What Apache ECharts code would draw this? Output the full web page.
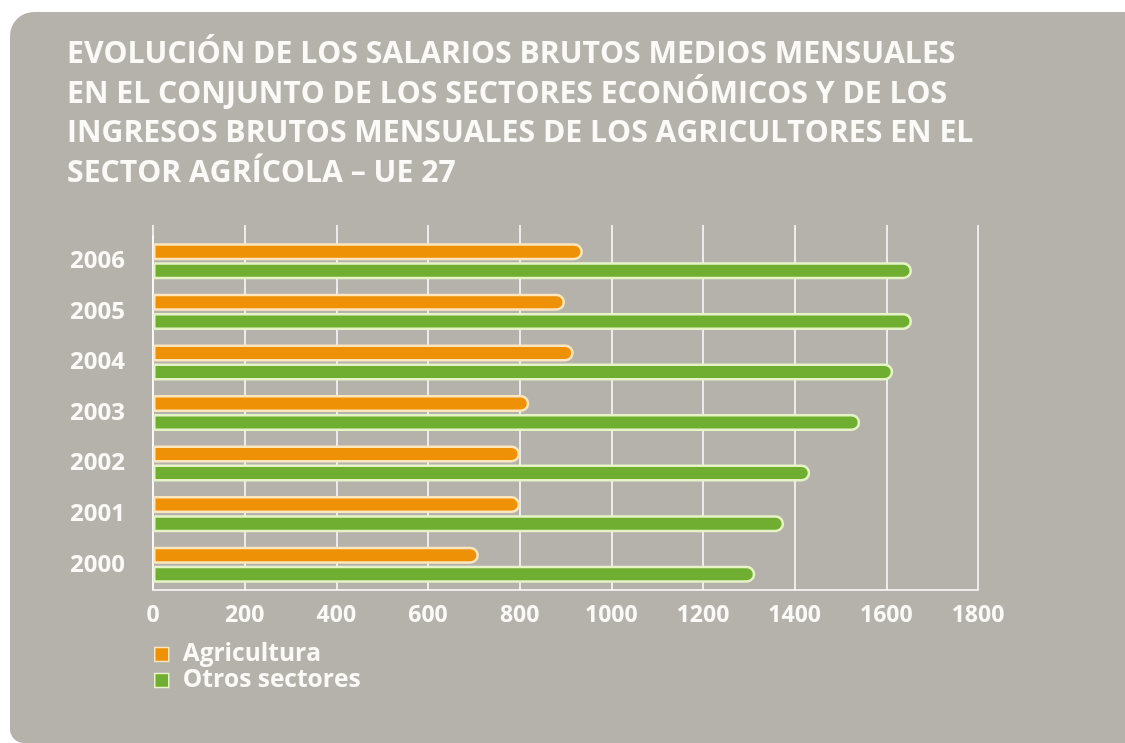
<!DOCTYPE html>
<html>
<head>
<meta charset="utf-8">
<script src="https://cdn.jsdelivr.net/npm/echarts@6/dist/echarts.min.js"></script>
<style>
  html, body { margin: 0; padding: 0; background: #ffffff; }
  #panel {
    position: absolute; left: 10px; top: 12px; width: 1115px; height: 731px;
    background: #b5b2ac; border-top-left-radius: 24px; border-bottom-left-radius: 14px;
  }
  #chart { position: absolute; left: 0; top: 0; width: 1125px; height: 743px; }
</style>
</head>
<body>
<div id="panel"></div>
<div id="chart"></div>
<script>
// data (euros per month)
var years = ['2000', '2001', '2002', '2003', '2004', '2005', '2006']
var agricultura = [711, 801, 801, 821, 918, 899, 938]
var otrosSectores = [1314, 1377, 1434, 1543, 1615, 1656, 1656]
var seriesNames = ['Agricultura', 'Otros sectores']
var titleLines = [
  'EVOLUCIÓN DE LOS SALARIOS BRUTOS MEDIOS MENSUALES',
  'EN EL CONJUNTO DE LOS SECTORES ECONÓMICOS Y DE LOS',
  'INGRESOS BRUTOS MENSUALES DE LOS AGRICULTORES EN EL',
  'SECTOR AGRÍCOLA – UE 27'
]

var orange = '#ee9106'
var orangeEdge = '#fbe6bd'
var green = '#6fae31'
var greenEdge = '#e6f3c6'
var textColor = '#fbfaf6'
var fontFamily = '"Open Sans", "Noto Sans", sans-serif'

var chart = echarts.init(document.getElementById('chart'))

var option = {
  backgroundColor: 'transparent',
  animation: false,
  title: {
    text: titleLines.join('\n'),
    left: 62,
    top: 30,
    textStyle: {
      color: textColor,
      fontFamily: fontFamily,
      fontWeight: 'bold',
      fontSize: 30.2,
      lineHeight: 39.5
    }
  },
  legend: {
    orient: 'vertical',
    left: 149,
    top: 637,
    itemGap: 1,
    itemWidth: 14,
    itemHeight: 14,
    icon: 'rect',
    data: [
      { name: seriesNames[0], itemStyle: { color: orange, borderColor: orangeEdge, borderWidth: 1.5 } },
      { name: seriesNames[1], itemStyle: { color: green, borderColor: greenEdge, borderWidth: 1.5 } }
    ],
    textStyle: {
      color: textColor,
      fontFamily: fontFamily,
      fontWeight: 'bold',
      fontSize: 24.5,
      padding: [0, 0, 0, 9]
    }
  },
  grid: [
    { left: 153, right: 147, top: 236, bottom: 153 },
    // thin band above the bars so the gridlines run on to the top as in the picture
    { left: 153, right: 147, top: 225, height: 11 }
  ],
  xAxis: [
    {
      type: 'value',
      gridIndex: 0,
      min: 0,
      max: 1800,
      interval: 200,
      axisLine: { show: true, lineStyle: { color: '#ffffff', width: 1.5 } },
      axisTick: { show: false },
      splitLine: { show: true, lineStyle: { color: '#ffffff', width: 1.5 } },
      axisLabel: {
        color: textColor,
        fontFamily: fontFamily,
        fontWeight: 'bold',
        fontSize: 23,
        margin: 14,
        formatter: function (v) { return String(v) }
      }
    },
    {
      type: 'value',
      gridIndex: 1,
      min: 0,
      max: 1800,
      interval: 200,
      axisLine: { show: false },
      axisTick: { show: false },
      axisLabel: { show: false },
      splitLine: { show: true, lineStyle: { color: '#ffffff', width: 1.5 } }
    }
  ],
  yAxis: [
    {
      type: 'category',
      gridIndex: 0,
      data: years,
      axisLine: { show: true, lineStyle: { color: '#ffffff', width: 1.5 } },
      axisTick: { show: false },
      axisLabel: {
        color: textColor,
        fontFamily: fontFamily,
        fontWeight: 'bold',
        fontSize: 24,
        margin: 28
      }
    },
    {
      type: 'category',
      gridIndex: 1,
      data: [''],
      axisLine: { show: false },
      axisTick: { show: false },
      axisLabel: { show: false }
    }
  ],
  series: [
    {
      name: seriesNames[0],
      type: 'bar',
      data: agricultura,
      barWidth: 17,
      barGap: '12%',
      itemStyle: {
        color: orange,
        borderColor: orangeEdge,
        borderWidth: 2.5,
        borderRadius: [0, 8, 8, 0]
      }
    },
    {
      name: seriesNames[1],
      type: 'bar',
      data: otrosSectores,
      barWidth: 17,
      barGap: '12%',
      itemStyle: {
        color: green,
        borderColor: greenEdge,
        borderWidth: 2.5,
        borderRadius: [0, 8, 8, 0]
      }
    }
  ]
}

chart.setOption(option)
</script>
</body>
</html>
